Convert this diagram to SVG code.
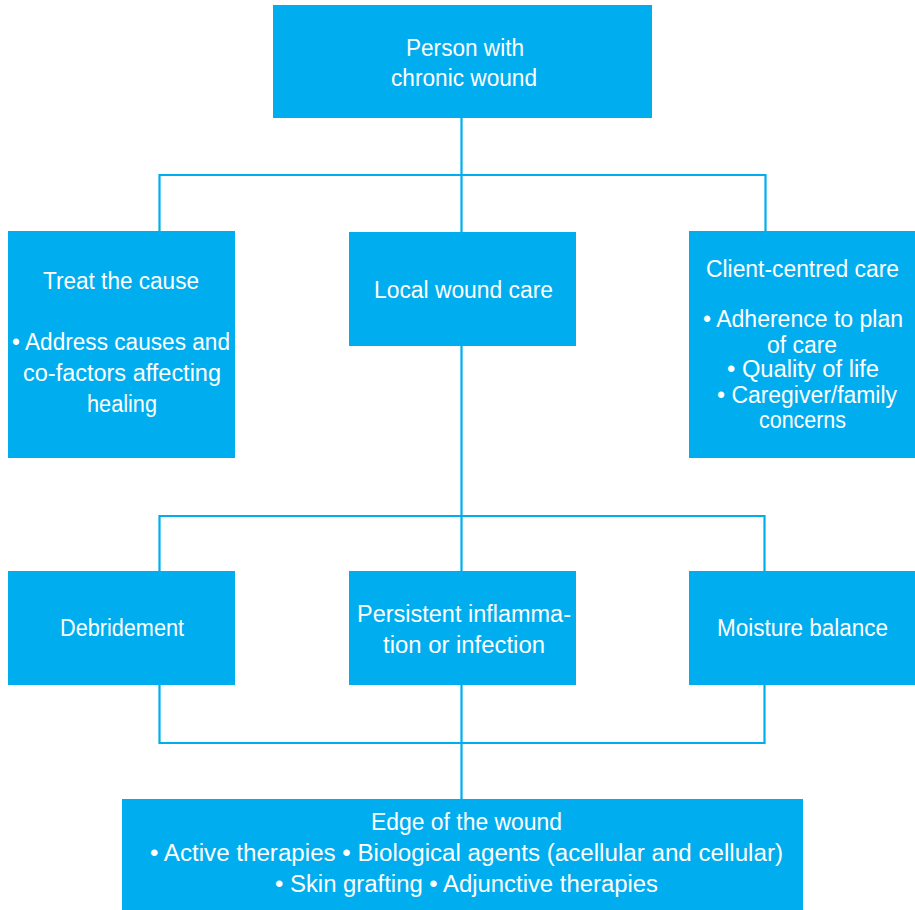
<svg xmlns="http://www.w3.org/2000/svg" width="915" height="910" viewBox="0 0 915 910">
<style>
.box{fill:#00aeef}
.t{font-family:"Liberation Sans",Arial,sans-serif;font-size:23px;fill:#ffffff;text-anchor:middle}
.c{fill:none;stroke:#00aeef;stroke-width:2.2}
</style>
<rect width="915" height="910" fill="#ffffff"/>
<g id="connectors">
<path class="c" d="M461.5 118 V232 M461.5 346 V571 M461.5 685 V799"/>
<path class="c" d="M159.5 231 V175 H765.5 V231"/>
<path class="c" d="M159.5 571 V516 H764.5 V571"/>
<path class="c" d="M159.5 685 V743 H764.5 V685"/>
</g>
<g id="person">
<rect class="box" x="273" y="5" width="379" height="113"/>
<text class="t" x="465" y="56" textLength="118" lengthAdjust="spacingAndGlyphs">Person with</text>
<text class="t" x="464" y="86" textLength="146" lengthAdjust="spacingAndGlyphs">chronic wound</text>
</g>
<g id="treat">
<rect class="box" x="8" y="231" width="227" height="227"/>
<text class="t" x="121" y="289" textLength="156" lengthAdjust="spacingAndGlyphs">Treat the cause</text>
<text class="t" x="121" y="350" textLength="218" lengthAdjust="spacingAndGlyphs">• Address causes and</text>
<text class="t" x="122" y="381" textLength="198" lengthAdjust="spacingAndGlyphs">co-factors affecting</text>
<text class="t" x="122" y="412" textLength="70" lengthAdjust="spacingAndGlyphs">healing</text>
</g>
<g id="local">
<rect class="box" x="349" y="232" width="227" height="114"/>
<text class="t" x="463.5" y="298" textLength="179" lengthAdjust="spacingAndGlyphs">Local wound care</text>
</g>
<g id="client">
<rect class="box" x="689" y="231" width="226" height="227"/>
<text class="t" x="802.5" y="277" textLength="193" lengthAdjust="spacingAndGlyphs">Client-centred care</text>
<text class="t" x="803" y="327" textLength="200" lengthAdjust="spacingAndGlyphs">• Adherence to plan</text>
<text class="t" x="802" y="353" textLength="70" lengthAdjust="spacingAndGlyphs">of care</text>
<text class="t" x="803" y="377" textLength="152" lengthAdjust="spacingAndGlyphs">• Quality of life</text>
<text class="t" x="807" y="403" textLength="180" lengthAdjust="spacingAndGlyphs">• Caregiver/family</text>
<text class="t" x="802.5" y="428" textLength="87" lengthAdjust="spacingAndGlyphs">concerns</text>
</g>
<g id="debridement">
<rect class="box" x="8" y="571" width="227" height="114"/>
<text class="t" x="122" y="636" textLength="124" lengthAdjust="spacingAndGlyphs">Debridement</text>
</g>
<g id="persistent">
<rect class="box" x="349" y="571" width="227" height="114"/>
<text class="t" x="464" y="622" textLength="214" lengthAdjust="spacingAndGlyphs">Persistent inflamma-</text>
<text class="t" x="464" y="653" textLength="162" lengthAdjust="spacingAndGlyphs">tion or infection</text>
</g>
<g id="moisture">
<rect class="box" x="689" y="571" width="226" height="114"/>
<text class="t" x="802.5" y="636" textLength="171" lengthAdjust="spacingAndGlyphs">Moisture balance</text>
</g>
<g id="edge">
<rect class="box" x="122" y="799" width="681" height="111"/>
<text class="t" x="466.5" y="830" textLength="191" lengthAdjust="spacingAndGlyphs">Edge of the wound</text>
<text class="t" x="466.5" y="861" textLength="633" lengthAdjust="spacingAndGlyphs">• Active therapies • Biological agents (acellular and cellular)</text>
<text class="t" x="466.5" y="892" textLength="383" lengthAdjust="spacingAndGlyphs">• Skin grafting • Adjunctive therapies</text>
</g>
</svg>
